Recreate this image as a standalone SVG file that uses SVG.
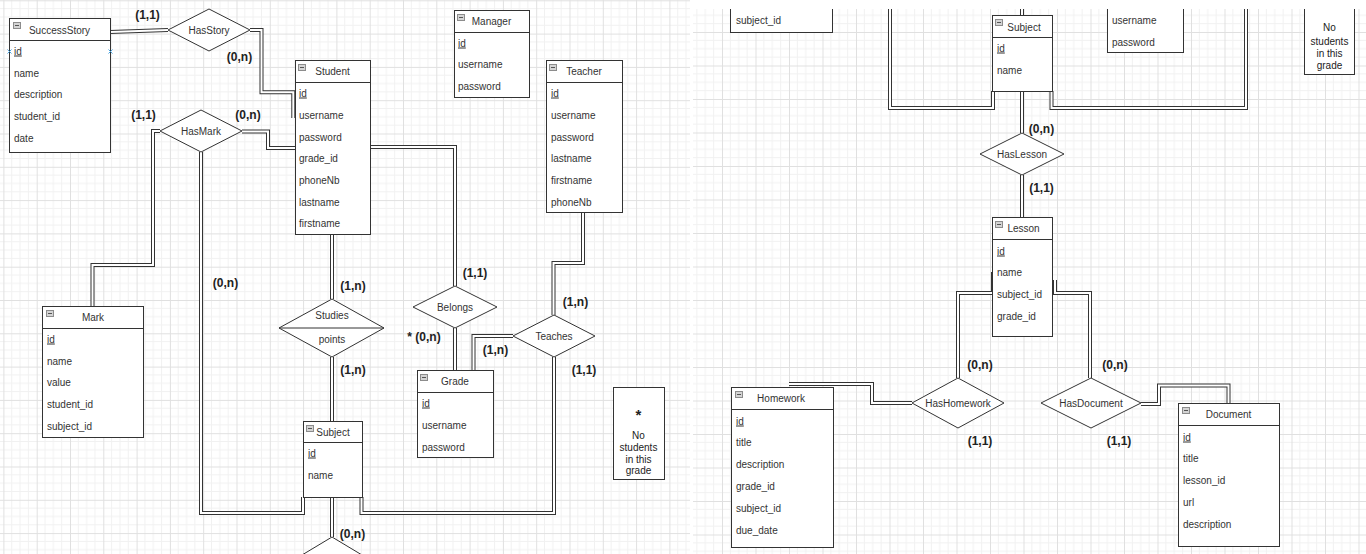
<svg xmlns="http://www.w3.org/2000/svg" xmlns:xlink="http://www.w3.org/1999/xlink" width="1366" height="554" viewBox="0 0 1366 554">
<style>
.box{fill:#fff;stroke:#333;stroke-width:1}
.sep{stroke:#333;stroke-width:1}
.ico{fill:#d4d4d4;stroke:#8c8c8c;stroke-width:1}
.icm{stroke:#555;stroke-width:1}
.hdr{font-family:"Liberation Sans",Arial,sans-serif;font-size:10px;fill:#333;text-anchor:middle}
.row{font-family:"Liberation Sans",Arial,sans-serif;font-size:10px;fill:#333}
.u{text-decoration:underline}
.rel{fill:#fff;stroke:#333;stroke-width:1}
.rt{font-family:"Liberation Sans",Arial,sans-serif;font-size:10px;fill:#333;text-anchor:middle}
.lbl{font-family:"Liberation Sans",Arial,sans-serif;font-size:12px;font-weight:bold;fill:#222;text-anchor:middle}
.note{font-family:"Liberation Sans",Arial,sans-serif;font-size:10px;fill:#222;text-anchor:middle}
.lo{fill:none;stroke:#333;stroke-width:4;stroke-linejoin:miter}
.li{fill:none;stroke:#fff;stroke-width:2;stroke-linejoin:miter}
.mk{stroke:#4aa3df;stroke-width:1}
</style>
<defs>
<pattern id="gl" width="33.3" height="33.3" x="3.4" y="0.3" patternUnits="userSpaceOnUse">
<path d="M8.33,0V33.3M16.65,0V33.3M24.98,0V33.3M0,8.33H33.3M0,16.65H33.3M0,24.98H33.3" stroke="#f1f1f1" stroke-width="1" fill="none"/>
<path d="M0.5,0V33.3M0,0.5H33.3" stroke="#e0e0e0" stroke-width="1" fill="none"/>
</pattern>
<pattern id="gr" width="33.5" height="33.5" x="722" y="-1.5" patternUnits="userSpaceOnUse">
<path d="M8.38,0V33.5M16.75,0V33.5M25.13,0V33.5M0,8.38H33.5M0,16.75H33.5M0,25.13H33.5" stroke="#f1f1f1" stroke-width="1" fill="none"/>
<path d="M0.5,0V33.5M0,0.5H33.5" stroke="#e0e0e0" stroke-width="1" fill="none"/>
</pattern>
<clipPath id="cr"><rect x="693" y="9" width="673" height="545"/></clipPath>
<path id="c1" d="M110,32 L168,30"/>
<path id="c2" d="M250,30 H261.5 V92.3 H293.3 V118"/>
<path id="c3" d="M242,131.5 H268 V148 H295"/>
<path id="c4" d="M160,131 H153 V265 H92.5 V306"/>
<path id="c5" d="M201,152 V513 H303 V497"/>
<path id="c6" d="M332,234 V299"/>
<path id="c7" d="M332,357 V421"/>
<path id="c8" d="M332,497 V537"/>
<path id="c9" d="M370,147 H455 V286"/>
<path id="c10" d="M455,328 V370"/>
<path id="c11" d="M583,212 V263 H553.5 V315"/>
<path id="c12" d="M513,336 H473.5 V370"/>
<path id="c13" d="M361.5,497 V513 H554 V357"/>
<path id="r1" d="M1022,5 V15"/>
<path id="r2" d="M890,5 V108 H993 V91"/>
<path id="r3" d="M1051.5,91 V108 H1246 V5"/>
<path id="r4" d="M1022,91 V133"/>
<path id="r5" d="M1022,175 V217"/>
<path id="r6" d="M993,272 V293 H958 V378"/>
<path id="r7" d="M1055,280 V293 H1090 V378"/>
<path id="r8" d="M912,403 H872 V384 H789"/>
<path id="r9" d="M1141,404 H1159 V385.5 H1228.5 V403"/>
</defs>

<rect x="0" y="0" width="1366" height="554" fill="#fff"/>
<rect x="0" y="0" width="690" height="554" fill="url(#gl)"/>
<rect x="693" y="9" width="673" height="545" fill="url(#gr)"/>

<g id="connectors">
<g class="lo">
<use xlink:href="#c1"/><use xlink:href="#c2"/><use xlink:href="#c3"/><use xlink:href="#c4"/><use xlink:href="#c5"/><use xlink:href="#c6"/><use xlink:href="#c7"/><use xlink:href="#c8"/><use xlink:href="#c9"/><use xlink:href="#c10"/><use xlink:href="#c11"/><use xlink:href="#c12"/><use xlink:href="#c13"/>
</g>
<g class="li">
<use xlink:href="#c1"/><use xlink:href="#c2"/><use xlink:href="#c3"/><use xlink:href="#c4"/><use xlink:href="#c5"/><use xlink:href="#c6"/><use xlink:href="#c7"/><use xlink:href="#c8"/><use xlink:href="#c9"/><use xlink:href="#c10"/><use xlink:href="#c11"/><use xlink:href="#c12"/><use xlink:href="#c13"/>
</g>
<g clip-path="url(#cr)">
<g class="lo">
<use xlink:href="#r1"/><use xlink:href="#r2"/><use xlink:href="#r3"/><use xlink:href="#r4"/><use xlink:href="#r5"/><use xlink:href="#r6"/><use xlink:href="#r7"/><use xlink:href="#r8"/><use xlink:href="#r9"/>
</g>
<g class="li">
<use xlink:href="#r1"/><use xlink:href="#r2"/><use xlink:href="#r3"/><use xlink:href="#r4"/><use xlink:href="#r5"/><use xlink:href="#r6"/><use xlink:href="#r7"/><use xlink:href="#r8"/><use xlink:href="#r9"/>
</g>
</g>
</g>

<!-- Left screenshot -->
<g id="successstory">
<rect class="box" x="9.5" y="18.5" width="101" height="134"/>
<line class="sep" x1="9.5" y1="40.5" x2="110.5" y2="40.5"/>
<rect class="ico" x="13.5" y="22.5" width="7" height="6"/><line class="icm" x1="15" y1="25.5" x2="19" y2="25.5"/>
<text class="hdr" x="59.5" y="33.5">SuccessStory</text>
<text class="row u" x="14" y="54.5">id</text>
<text class="row" x="14" y="76.5">name</text>
<text class="row" x="14" y="97.5">description</text>
<text class="row" x="14" y="119.5">student_id</text>
<text class="row" x="14" y="141.5">date</text>
<path class="mk" d="M7.5,49.5 L11.5,53.5 M11.5,49.5 L7.5,53.5 M108.5,49.5 L112.5,53.5 M112.5,49.5 L108.5,53.5"/>
</g>

<g id="hasstory">
<polygon class="rel" points="168,30 209,9 250,30 209,51"/>
<text class="rt" x="209" y="33.5">HasStory</text>
</g>

<g id="student">
<rect class="box" x="295.5" y="60.5" width="75" height="174"/>
<line class="sep" x1="295.5" y1="82.5" x2="370.5" y2="82.5"/>
<rect class="ico" x="298.5" y="64.5" width="7" height="6"/><line class="icm" x1="300" y1="67.5" x2="304" y2="67.5"/>
<text class="hdr" x="332.5" y="75">Student</text>
<text class="row u" x="299" y="96.5">id</text>
<text class="row" x="299" y="118.5">username</text>
<text class="row" x="299" y="140.5">password</text>
<text class="row" x="299" y="161.5">grade_id</text>
<text class="row" x="299" y="183.5">phoneNb</text>
<text class="row" x="299" y="205.5">lastname</text>
<text class="row" x="299" y="226.5">firstname</text>
</g>

<g id="manager">
<rect class="box" x="454.5" y="10.5" width="75" height="87"/>
<line class="sep" x1="454.5" y1="32.5" x2="529.5" y2="32.5"/>
<rect class="ico" x="457.5" y="14.5" width="7" height="6"/><line class="icm" x1="459" y1="17.5" x2="463" y2="17.5"/>
<text class="hdr" x="491.5" y="25">Manager</text>
<text class="row u" x="458" y="46.5">id</text>
<text class="row" x="458" y="67.5">username</text>
<text class="row" x="458" y="89.5">password</text>
</g>

<g id="teacher">
<rect class="box" x="546.5" y="60.5" width="76" height="152"/>
<line class="sep" x1="546.5" y1="82.5" x2="622.5" y2="82.5"/>
<rect class="ico" x="549.5" y="64.5" width="7" height="6"/><line class="icm" x1="551" y1="67.5" x2="555" y2="67.5"/>
<text class="hdr" x="584" y="75">Teacher</text>
<text class="row u" x="551" y="96.5">id</text>
<text class="row" x="551" y="118.5">username</text>
<text class="row" x="551" y="140.5">password</text>
<text class="row" x="551" y="161.5">lastname</text>
<text class="row" x="551" y="183.5">firstname</text>
<text class="row" x="551" y="205.5">phoneNb</text>
</g>

<g id="hasmark">
<polygon class="rel" points="160,131 201,110 242,131 201,152"/>
<text class="rt" x="201" y="134.5">HasMark</text>
</g>

<g id="mark">
<rect class="box" x="42.5" y="306.5" width="101" height="131"/>
<line class="sep" x1="42.5" y1="328.5" x2="143.5" y2="328.5"/>
<rect class="ico" x="46.5" y="310.5" width="7" height="6"/><line class="icm" x1="48" y1="313.5" x2="52" y2="313.5"/>
<text class="hdr" x="93" y="321">Mark</text>
<text class="row u" x="47" y="342.5">id</text>
<text class="row" x="47" y="364.5">name</text>
<text class="row" x="47" y="385.5">value</text>
<text class="row" x="47" y="407.5">student_id</text>
<text class="row" x="47" y="429.5">subject_id</text>
</g>

<g id="studies">
<polygon class="rel" points="279,328 332,299 384,328 332,357"/>
<line class="sep" x1="279" y1="328" x2="384" y2="328"/>
<text class="rt" x="332" y="318.5">Studies</text>
<text class="rt" x="332" y="342.5">points</text>
</g>

<g id="subject-left">
<rect class="box" x="303.5" y="421.5" width="59" height="76"/>
<line class="sep" x1="303.5" y1="442.5" x2="362.5" y2="442.5"/>
<rect class="ico" x="306.5" y="425.5" width="7" height="6"/><line class="icm" x1="308" y1="428.5" x2="312" y2="428.5"/>
<text class="hdr" x="333" y="435.5">Subject</text>
<text class="row u" x="308" y="456.5">id</text>
<text class="row" x="308" y="478.5">name</text>
</g>

<g id="bottom-relation">
<polygon class="rel" points="282,567 332,537 382,567 332,597"/>
</g>

<g id="belongs">
<polygon class="rel" points="413,307 455,286 497,307 455,328"/>
<text class="rt" x="455" y="310.5">Belongs</text>
</g>

<g id="teaches">
<polygon class="rel" points="513,336 554,315 595,336 554,357"/>
<text class="rt" x="554" y="339.5">Teaches</text>
</g>

<g id="grade">
<rect class="box" x="417.5" y="370.5" width="76" height="87"/>
<line class="sep" x1="417.5" y1="392.5" x2="493.5" y2="392.5"/>
<rect class="ico" x="420.5" y="374.5" width="7" height="6"/><line class="icm" x1="422" y1="377.5" x2="426" y2="377.5"/>
<text class="hdr" x="455" y="385">Grade</text>
<text class="row u" x="422" y="406.5">id</text>
<text class="row" x="422" y="428.5">username</text>
<text class="row" x="422" y="450.5">password</text>
</g>

<g id="note-left">
<rect class="box" x="613.5" y="387.5" width="51" height="92"/>
<text class="note" x="638.5" y="420" style="font-size:15px;font-weight:bold">*</text>
<text class="note" x="638.5" y="438.5">No</text>
<text class="note" x="638.5" y="450.5">students</text>
<text class="note" x="638.5" y="462.5">in this</text>
<text class="note" x="638.5" y="473.5">grade</text>
</g>

<g id="labels-left">
<text class="lbl" x="147.5" y="19">(1,1)</text>
<text class="lbl" x="239.5" y="61">(0,n)</text>
<text class="lbl" x="143.5" y="119">(1,1)</text>
<text class="lbl" x="248" y="119">(0,n)</text>
<text class="lbl" x="225.5" y="287">(0,n)</text>
<text class="lbl" x="353" y="290">(1,n)</text>
<text class="lbl" x="353" y="374">(1,n)</text>
<text class="lbl" x="352.5" y="538">(0,n)</text>
<text class="lbl" x="475" y="277">(1,1)</text>
<text class="lbl" x="424" y="341">* (0,n)</text>
<text class="lbl" x="575.5" y="306">(1,n)</text>
<text class="lbl" x="495.5" y="354">(1,n)</text>
<text class="lbl" x="584" y="374">(1,1)</text>
</g>

<!-- Right screenshot -->
<g clip-path="url(#cr)">
<g id="mark-partial">
<rect class="box" x="730.5" y="-10.5" width="102" height="43"/>
<text class="row" x="736" y="23.5">subject_id</text>
</g>

<g id="subject-right">
<rect class="box" x="992.5" y="15.5" width="60" height="76"/>
<line class="sep" x1="992.5" y1="37.5" x2="1052.5" y2="37.5"/>
<rect class="ico" x="995.5" y="19.5" width="7" height="6"/><line class="icm" x1="997" y1="22.5" x2="1001" y2="22.5"/>
<text class="hdr" x="1024" y="30.5">Subject</text>
<text class="row u" x="997" y="51.5">id</text>
<text class="row" x="997" y="73.5">name</text>
</g>

<g id="grade-partial">
<rect class="box" x="1107.5" y="-10.5" width="76" height="63"/>
<text class="row" x="1112" y="23.5">username</text>
<text class="row" x="1112" y="45.5">password</text>
</g>

<g id="note-partial">
<rect class="box" x="1304.5" y="-10.5" width="50" height="85"/>
<text class="note" x="1329.5" y="30.5">No</text>
<text class="note" x="1329.5" y="44.5">students</text>
<text class="note" x="1329.5" y="56.5">in this</text>
<text class="note" x="1329.5" y="68.5">grade</text>
</g>
</g>

<g id="haslesson">
<polygon class="rel" points="980,154 1022,133 1064,154 1022,175"/>
<text class="rt" x="1022" y="157.5">HasLesson</text>
</g>

<g id="lesson">
<rect class="box" x="992.5" y="217.5" width="60" height="119"/>
<line class="sep" x1="992.5" y1="239.5" x2="1052.5" y2="239.5"/>
<rect class="ico" x="995.5" y="221.5" width="7" height="6"/><line class="icm" x1="997" y1="224.5" x2="1001" y2="224.5"/>
<text class="hdr" x="1023.5" y="232">Lesson</text>
<text class="row u" x="997" y="254.5">id</text>
<text class="row" x="997" y="275.5">name</text>
<text class="row" x="997" y="297.5">subject_id</text>
<text class="row" x="997" y="319.5">grade_id</text>
</g>

<g id="hashomework">
<polygon class="rel" points="912,403 958,378 1004,403 958,428"/>
<text class="rt" x="958" y="406.5">HasHomework</text>
</g>

<g id="homework">
<rect class="box" x="731.5" y="387.5" width="102" height="160"/>
<line class="sep" x1="731.5" y1="409.5" x2="833.5" y2="409.5"/>
<rect class="ico" x="735.5" y="391.5" width="7" height="6"/><line class="icm" x1="737" y1="394.5" x2="741" y2="394.5"/>
<text class="hdr" x="781" y="402">Homework</text>
<text class="row u" x="736" y="424.5">id</text>
<text class="row" x="736" y="445.5">title</text>
<text class="row" x="736" y="467.5">description</text>
<text class="row" x="736" y="489.5">grade_id</text>
<text class="row" x="736" y="511.5">subject_id</text>
<text class="row" x="736" y="533.5">due_date</text>
</g>

<g id="hasdocument">
<polygon class="rel" points="1041,403 1091,378 1141,403 1091,428"/>
<text class="rt" x="1091" y="406.5">HasDocument</text>
</g>

<g id="document">
<rect class="box" x="1178.5" y="403.5" width="101" height="143"/>
<line class="sep" x1="1178.5" y1="425.5" x2="1279.5" y2="425.5"/>
<rect class="ico" x="1182.5" y="407.5" width="7" height="6"/><line class="icm" x1="1184" y1="410.5" x2="1188" y2="410.5"/>
<text class="hdr" x="1228.5" y="418">Document</text>
<text class="row u" x="1183" y="440.5">id</text>
<text class="row" x="1183" y="461.5">title</text>
<text class="row" x="1183" y="483.5">lesson_id</text>
<text class="row" x="1183" y="505.5">url</text>
<text class="row" x="1183" y="527.5">description</text>
</g>

<g id="labels-right">
<text class="lbl" x="1041.5" y="133">(0,n)</text>
<text class="lbl" x="1041.5" y="192">(1,1)</text>
<text class="lbl" x="980" y="369">(0,n)</text>
<text class="lbl" x="980" y="445">(1,1)</text>
<text class="lbl" x="1115" y="369">(0,n)</text>
<text class="lbl" x="1119" y="445">(1,1)</text>
</g>
</svg>
